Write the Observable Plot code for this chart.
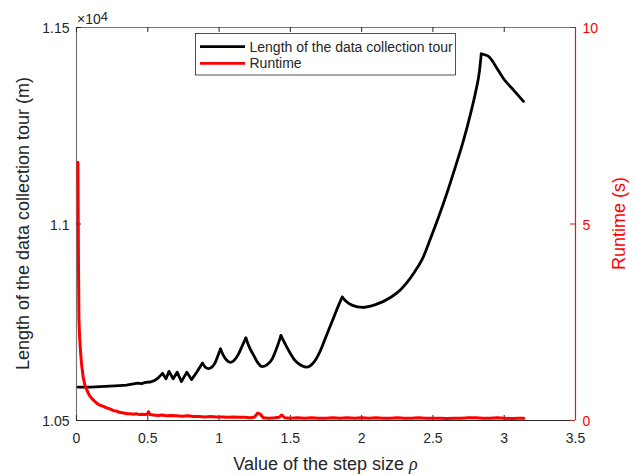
<!DOCTYPE html>
<html>
<head>
<meta charset="utf-8">
<script src="https://cdn.jsdelivr.net/npm/d3@7"></script>
<script src="https://cdn.jsdelivr.net/npm/@observablehq/plot@0.6"></script>
<style>
  body { margin: 0; background: #fff; }
  #chart { position: relative; width: 636px; height: 475px; font-family: "Liberation Sans", Arial, sans-serif; }
  #chart svg { position: absolute; left: 0; top: 0; }
</style>
</head>
<body>
<div id="chart"></div>
<script>
// Tour length (m) against step size rho
const stepSize = [
  0.01, 0.10, 0.20, 0.30, 0.35, 0.40, 0.43, 0.456, 0.484, 0.519,
  0.55, 0.575, 0.603, 0.628, 0.649, 0.678, 0.706, 0.736, 0.774, 0.807,
  0.842, 0.884, 0.905, 0.926, 0.947, 0.968, 0.989, 1.010, 1.031, 1.052,
  1.080, 1.108, 1.136, 1.164, 1.188, 1.213, 1.244, 1.270, 1.302, 1.333,
  1.373, 1.403, 1.434, 1.466, 1.501, 1.529, 1.559, 1.613, 1.664, 1.711,
  1.758, 1.805, 1.838, 1.864, 1.894, 1.936, 2.006, 2.097, 2.202, 2.273,
  2.364, 2.427, 2.483, 2.539, 2.595, 2.658, 2.714, 2.764, 2.799, 2.827,
  2.839, 2.869, 2.892, 2.951, 2.997, 3.067, 3.135
];
const tourLength = [
  10585, 10585, 10587, 10589, 10590, 10593, 10595, 10594, 10597, 10598,
  10602, 10609, 10620, 10606, 10625, 10606, 10623, 10599, 10623, 10604,
  10622, 10646, 10635, 10632, 10635, 10644, 10662, 10682, 10665, 10654,
  10648, 10654, 10669, 10691, 10710, 10686, 10665, 10648, 10637, 10641,
  10657, 10683, 10716, 10693, 10670, 10654, 10644, 10636, 10648, 10678,
  10721, 10763, 10793, 10814, 10802, 10793, 10788, 10795, 10813, 10833,
  10874, 10912, 10963, 11017, 11075, 11146, 11212, 11281, 11335, 11391,
  11433, 11430, 11426, 11395, 11369, 11340, 11312
];
// Step sizes where the tour length peaks; each arc between them is smooth
const peakStep = [0.884, 1.010, 1.188, 1.434, 1.864, 2.839];

// Runtime (s) against step size rho
const runtimeStep = [
  0.010, 0.012, 0.014, 0.017, 0.022, 0.028, 0.035, 0.047, 0.060, 0.075,
  0.090, 0.110, 0.130, 0.150, 0.170, 0.190, 0.210, 0.230, 0.260, 0.280,
  0.300, 0.330, 0.356, 0.380, 0.400, 0.420, 0.440, 0.460, 0.480, 0.495,
  0.505, 0.515, 0.540, 0.570, 0.600, 0.630, 0.660, 0.700, 0.740, 0.780,
  0.820, 0.860, 0.900, 0.940, 0.980, 1.020, 1.060, 1.100, 1.140, 1.180,
  1.220, 1.250, 1.270, 1.290, 1.310, 1.350, 1.390, 1.420, 1.440, 1.460,
  1.500, 1.550, 1.600, 1.650, 1.700, 1.750, 1.800, 1.850, 1.900, 1.950,
  2.000, 2.050, 2.100, 2.150, 2.200, 2.250, 2.300, 2.350, 2.400, 2.450,
  2.500, 2.550, 2.600, 2.650, 2.700, 2.750, 2.800, 2.850, 2.900, 2.950,
  3.000, 3.050, 3.100, 3.138
];
const runtimeSec = [
  6.57, 5.20, 3.90, 2.60, 2.10, 1.78, 1.45, 1.10, 0.88, 0.76,
  0.64, 0.55, 0.48, 0.42, 0.38, 0.36, 0.32, 0.30, 0.25, 0.24,
  0.21, 0.19, 0.17, 0.17, 0.16, 0.17, 0.15, 0.16, 0.15, 0.16,
  0.22, 0.15, 0.14, 0.13, 0.14, 0.12, 0.13, 0.12, 0.11, 0.12,
  0.10, 0.10, 0.09, 0.10, 0.09, 0.09, 0.08, 0.09, 0.08, 0.08,
  0.07, 0.09, 0.19, 0.16, 0.07, 0.06, 0.07, 0.08, 0.14, 0.07,
  0.06, 0.07, 0.06, 0.07, 0.06, 0.06, 0.07, 0.06, 0.07, 0.06,
  0.07, 0.06, 0.07, 0.06, 0.06, 0.07, 0.06, 0.06, 0.07, 0.06,
  0.06, 0.06, 0.05, 0.06, 0.06, 0.07, 0.07, 0.06, 0.06, 0.07,
  0.06, 0.05, 0.06, 0.06
];

const xTicks = [0, 0.5, 1, 1.5, 2, 2.5, 3, 3.5];
const lengthTicks = [10500, 11000, 11500];
const runtimeTicks = [0, 5, 10];

const W = 636, H = 475;
const M = { top: 27, right: 61, bottom: 55, left: 76 };
const frameW = W - M.left - M.right;
const frameH = H - M.top - M.bottom;
const TICK = 5;
const ink = "#262626";
const red = "#ff0000";
const font = "'Liberation Sans', Arial, Helvetica, sans-serif";

const common = {
  width: W, height: H,
  marginTop: M.top, marginRight: M.right, marginBottom: M.bottom, marginLeft: M.left,
  style: { fontFamily: font, fontSize: "14px", background: "transparent", overflow: "visible" }
};

// Split the tour curve into arcs at each peak; a peak closes one arc and opens the next
const tour = [];
stepSize.forEach((r, i) => {
  const seg = peakStep.filter(p => p < r - 1e-9).length;
  tour.push({ rho: r, len: tourLength[i], seg });
  if (peakStep.some(p => Math.abs(p - r) < 1e-9)) tour.push({ rho: r, len: tourLength[i], seg: seg + 1 });
});
const run = runtimeSec.map((v, i) => ({ rho: runtimeStep[i], t: v }));

// Left axis: tour length, with the box frame and x axis
const leftPlot = Plot.plot({
  ...common,
  x: { domain: [0, 3.5] },
  y: { domain: [10500, 11500] },
  marks: [
    Plot.ruleX([0], { stroke: "#777", strokeWidth: 1.2 }),
    Plot.ruleY([11500], { stroke: "#777", strokeWidth: 1 }),
    Plot.ruleY([10500], { stroke: ink, strokeWidth: 1 }),
    Plot.ruleX(xTicks, { stroke: ink, insetTop: frameH - TICK }),
    Plot.ruleX(xTicks, { stroke: ink, insetBottom: frameH - TICK }),
    Plot.ruleY(lengthTicks, { stroke: ink, insetRight: frameW - TICK }),
    Plot.axisX(xTicks, { tickSize: 0, tickPadding: 13, fontSize: 14, fill: ink, label: null, tickFormat: d => String(d) }),
    Plot.axisY(lengthTicks, { tickSize: 0, tickPadding: 7, fontSize: 14, fill: ink, dy: 1.5, label: null, tickFormat: d => String(d / 1e4) }),
    Plot.line(tour.filter(d => d.seg === 0), { x: "rho", y: "len", stroke: "#000", strokeWidth: 2.8, strokeLinejoin: "round", strokeLinecap: "round" }),
    Plot.line(tour.filter(d => d.seg > 0), { x: "rho", y: "len", z: "seg", curve: "monotone-x", stroke: "#000", strokeWidth: 2.8, strokeLinejoin: "round", strokeLinecap: "round" })
  ]
});

// Right axis: runtime
const rightPlot = Plot.plot({
  ...common,
  x: { domain: [0, 3.5], axis: null },
  y: { domain: [0, 10] },
  marks: [
    Plot.line(run, { x: "rho", y: "t", stroke: red, strokeWidth: 3, strokeLinejoin: "round" }),
    Plot.ruleX([3.5], { stroke: "#c8201f", strokeWidth: 1.2 }),
    Plot.ruleY(runtimeTicks, { stroke: "#c8201f", insetLeft: frameW - TICK }),
    Plot.axisY(runtimeTicks, { anchor: "right", tickSize: 0, tickPadding: 7, fontSize: 14, fill: red, dy: 1.5, label: null, tickFormat: d => String(d) })
  ]
});

const chart = document.getElementById("chart");
chart.append(leftPlot, rightPlot);

const svg = d3.select(rightPlot);

// Exponent of the left axis
const expo = svg.append("text").attr("x", 77).attr("y", 24).attr("text-anchor", "start")
  .attr("font-family", font).attr("font-size", 14).attr("fill", ink);
expo.append("tspan").text("×10");
expo.append("tspan").attr("font-size", 13).attr("dy", -3.5).text("4");

// Axis titles
const xl = svg.append("text").attr("x", 325.5).attr("y", 469.5)
  .attr("text-anchor", "middle").attr("font-family", font).attr("font-size", 18).attr("fill", ink);
xl.append("tspan").text("Value of the step size ");
xl.append("tspan").attr("font-family", "'Liberation Serif', serif").attr("font-style", "italic").text("ρ");

svg.append("text").attr("transform", "translate(28.5,223.5) rotate(-90)")
  .attr("text-anchor", "middle").attr("font-family", font).attr("font-size", 18).attr("fill", ink)
  .text("Length of the data collection tour (m)");

svg.append("text").attr("transform", "translate(625,223.5) rotate(-90)")
  .attr("text-anchor", "middle").attr("font-family", font).attr("font-size", 18).attr("fill", red)
  .text("Runtime (s)");

// Legend
const legendItems = [
  { label: "Length of the data collection tour", color: "#000" },
  { label: "Runtime", color: red }
];
const lg = svg.append("g");
lg.append("rect").attr("x", 195.5).attr("y", 33.5).attr("width", 260).attr("height", 41.5)
  .attr("fill", "#fff").attr("stroke", ink).attr("stroke-width", 0.8);
legendItems.forEach((d, i) => {
  const y = 46.7 + i * 16.6;
  lg.append("line").attr("x1", 200).attr("x2", 245).attr("y1", y).attr("y2", y)
    .attr("stroke", d.color).attr("stroke-width", 2.8);
  lg.append("text").attr("x", 249.5).attr("y", y + 5).attr("text-anchor", "start")
    .attr("font-family", font).attr("font-size", 14).attr("fill", ink).text(d.label);
});
</script>
</body>
</html>
